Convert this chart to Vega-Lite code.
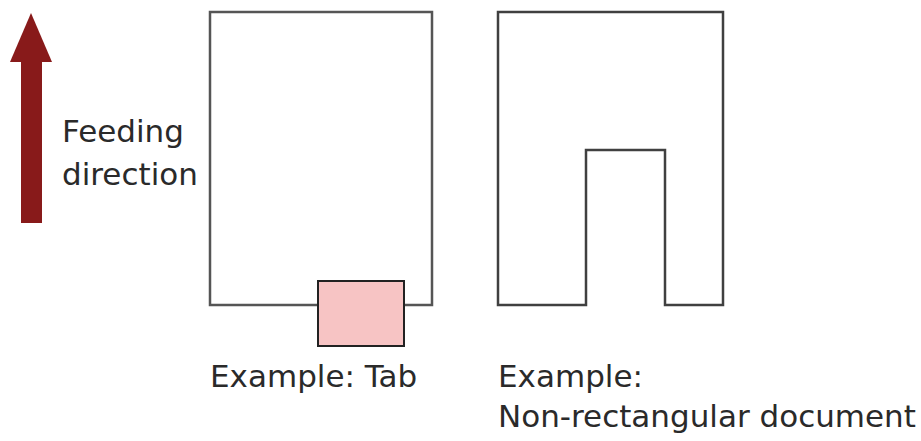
{
  "$schema": "https://vega.github.io/schema/vega-lite/v6.json",
  "width": 921,
  "height": 441,
  "autosize": {"type": "fit", "contains": "padding"},
  "padding": 0,
  "background": "white",
  "config": {"view": {"stroke": null}},
  "datasets": {
    "sheet": [{"name": "tab-document", "x": 210, "x2": 432, "y": 12, "y2": 305}],
    "tab": [{"name": "tab", "x": 318, "x2": 404, "y": 281, "y2": 346}],
    "shaft": [{"name": "arrow-shaft", "x": 21, "x2": 42, "y": 62, "y2": 223}],
    "head": [{"y": 13, "x": 31, "x2": 31}, {"y": 62, "x": 10, "x2": 52}],
    "outline": [
      {"order": 1, "x": 498, "y": 12},
      {"order": 2, "x": 723, "y": 12},
      {"order": 3, "x": 723, "y": 305},
      {"order": 4, "x": 665, "y": 305},
      {"order": 5, "x": 665, "y": 150},
      {"order": 6, "x": 586, "y": 150},
      {"order": 7, "x": 586, "y": 305},
      {"order": 8, "x": 498, "y": 305},
      {"order": 9, "x": 498, "y": 12}
    ],
    "labels": [
      {"label": "Feeding", "x": 62, "y": 142},
      {"label": "direction", "x": 62, "y": 185},
      {"label": "Example: Tab", "x": 210, "y": 387},
      {"label": "Example:", "x": 498, "y": 387},
      {"label": "Non-rectangular document", "x": 498, "y": 427}
    ]
  },
  "layer": [
    {
      "data": {"name": "sheet"},
      "mark": {"type": "rect", "fill": "white", "stroke": "#555555", "strokeWidth": 2.5},
      "encoding": {
        "x": {"field": "x", "type": "quantitative", "scale": {"domain": [0, 921], "nice": false, "zero": false}, "axis": null},
        "x2": {"field": "x2"},
        "y": {"field": "y", "type": "quantitative", "scale": {"domain": [0, 441], "nice": false, "zero": false, "reverse": true}, "axis": null},
        "y2": {"field": "y2"}
      }
    },
    {
      "data": {"name": "tab"},
      "mark": {"type": "rect", "fill": "#f7c4c4", "stroke": "#222222", "strokeWidth": 2},
      "encoding": {
        "x": {"field": "x", "type": "quantitative"},
        "x2": {"field": "x2"},
        "y": {"field": "y", "type": "quantitative"},
        "y2": {"field": "y2"}
      }
    },
    {
      "data": {"name": "outline"},
      "mark": {"type": "line", "stroke": "#404040", "strokeWidth": 2.5, "strokeJoin": "miter", "strokeCap": "square"},
      "encoding": {
        "x": {"field": "x", "type": "quantitative"},
        "y": {"field": "y", "type": "quantitative"},
        "order": {"field": "order", "type": "quantitative"}
      }
    },
    {
      "data": {"name": "shaft"},
      "mark": {"type": "rect", "fill": "#881a1a"},
      "encoding": {
        "x": {"field": "x", "type": "quantitative"},
        "x2": {"field": "x2"},
        "y": {"field": "y", "type": "quantitative"},
        "y2": {"field": "y2"}
      }
    },
    {
      "data": {"name": "head"},
      "mark": {"type": "area", "orient": "horizontal", "fill": "#881a1a"},
      "encoding": {
        "y": {"field": "y", "type": "quantitative"},
        "x": {"field": "x", "type": "quantitative"},
        "x2": {"field": "x2"}
      }
    },
    {
      "data": {"name": "labels"},
      "mark": {"type": "text", "align": "left", "baseline": "alphabetic", "font": "DejaVu Sans", "fontSize": 31, "color": "#2a2a2a"},
      "encoding": {
        "x": {"field": "x", "type": "quantitative"},
        "y": {"field": "y", "type": "quantitative"},
        "text": {"field": "label", "type": "nominal"}
      }
    }
  ]
}
